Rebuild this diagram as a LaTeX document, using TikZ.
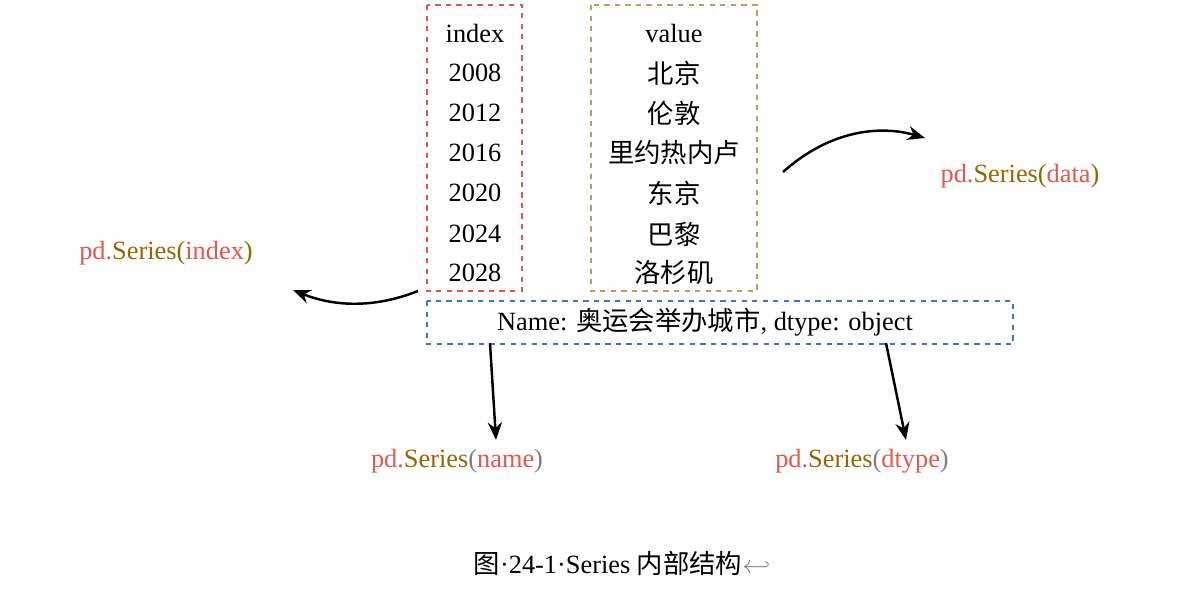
\documentclass[tikz,border=0pt]{standalone}
\usepackage{fontspec}
\setmainfont{Liberation Serif}
\newfontfamily\cjk{Noto Sans CJK SC}
\usetikzlibrary{arrows.meta,positioning}
\definecolor{lblred}{HTML}{E5574B}
\definecolor{lblbrown}{HTML}{9A6400}
\definecolor{boxred}{HTML}{E8534F}
\definecolor{boxtan}{HTML}{C79A5A}
\definecolor{boxblue}{HTML}{3A78C2}
\newcommand{\pds}[1]{\textcolor{lblred}{pd.}\textcolor{lblbrown}{Series}\textcolor{gray}{(}\textcolor{lblred}{#1}\textcolor{gray}{)}}
\newcommand{\pdsb}[1]{\textcolor{lblred}{pd.}\textcolor{lblbrown}{Series}\textcolor{lblbrown}{(}\textcolor{lblred}{#1}\textcolor{lblbrown}{)}}
\begin{document}
\begin{tikzpicture}[x=0.02cm,y=-0.02cm,font=\fontsize{15}{18}\selectfont,
	frame/.style={draw,dashed,thick},
	cell/.style={inner sep=0pt,anchor=center},
	arr/.style={-{Stealth[length=10pt,width=8pt]},line width=1.4pt}]
	\useasboundingbox (0,0) rectangle (1184,605);

	\draw[frame,boxred] (427,5) rectangle (522,291);
	\draw[frame,boxtan] (591,5) rectangle (757,291);
	\draw[frame,boxblue] (427,301) rectangle (1013,344);

	\node[cell] (i0) at (475,33) {index};
	\node[cell] (i1) at (475,73) {2008};
	\node[cell] (i2) at (475,113) {2012};
	\node[cell] (i3) at (475,153) {2016};
	\node[cell] (i4) at (475,193) {2020};
	\node[cell] (i5) at (475,234) {2024};
	\node[cell] (i6) at (475,273) {2028};

	\node[cell] (v0) at (674,33) {value};
	\node[cell] (v1) at (674,73) {\cjk 北京};
	\node[cell] (v2) at (674,113) {\cjk 伦敦};
	\node[cell] (v3) at (674,153) {\cjk 里约热内卢};
	\node[cell] (v4) at (674,193) {\cjk 东京};
	\node[cell] (v5) at (674,234) {\cjk 巴黎};
	\node[cell] (v6) at (674,273) {\cjk 洛杉矶};

	\node[cell] (nm) at (705,322) {Name: {\cjk 奥运会举办城市}, dtype: object};

	\node[cell] (ldata) at (1020,176) {\pdsb{data}};
	\node[cell] (lindex) at (166,253) {\pdsb{index}};
	\node[cell] (lname) at (457,461) {\pds{name}};
	\node[cell] (ldtype) at (862,461) {\pds{dtype}};

	\coordinate (a1) at (783,172);
	\coordinate (a2) at (925,138);
	\coordinate (b1) at (418,291);
	\coordinate (b2) at (293,290);
	\coordinate (c1) at (490,343);
	\coordinate (c2) at (496,440);
	\coordinate (d1) at (886,343);
	\coordinate (d2) at (906,440);

	\draw[arr] (a1) .. controls (830,130) and (880,125) .. (a2);
	\draw[arr] (b1) .. controls (370,310) and (330,305) .. (b2);
	\draw[arr] (c1) -- (c2);
	\draw[arr] (d1) -- (d2);

	\node[cell] (cap) at (622,563) {{\cjk 图}\textperiodcentered24-1\textperiodcentered Series {\cjk 内部结构}\textcolor{gray}{$\hookleftarrow$}};
\end{tikzpicture}
\end{document}
